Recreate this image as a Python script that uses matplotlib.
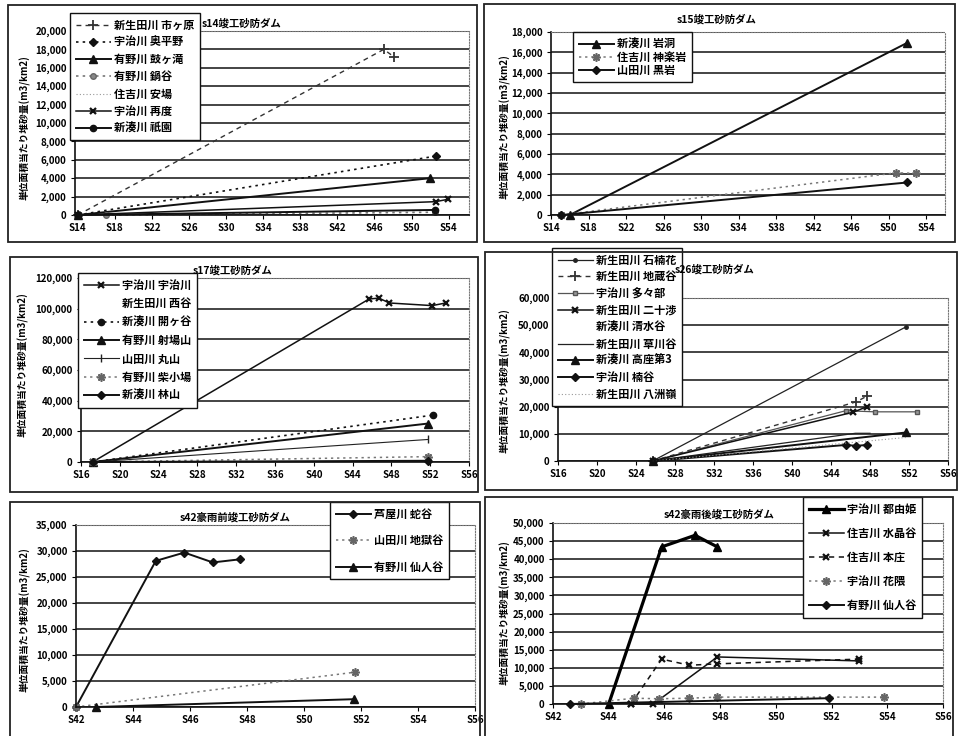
import matplotlib
matplotlib.use('Agg')
import matplotlib.pyplot as plt
from matplotlib.patches import Rectangle
from matplotlib.ticker import FixedLocator, FuncFormatter

plt.rcParams['font.family'] = ['Noto Sans CJK JP', 'DejaVu Sans']

W, H = 964, 736
YLABEL = '単位面積当たり堆砂量(m3/km2)'

# ---- データ (昭和年, 単位面積当たり堆砂量) ----
# s14竣工砂防ダム
s14_names = ['新生田川 市ヶ原', '宇治川 奥平野', '有野川 鼓ヶ滝', '有野川 鍋谷',
             '住吉川 安場', '宇治川 再度', '新湊川 祇園']
s14_x = [[14.0, 47.0, 48.1], [14.0, 52.6], [14.0, 52.0], [17.0, 52.5],
         [], [14.0, 52.6, 53.9], [14.0, 52.5]]
s14_y = [[0, 18000, 17200], [0, 6400], [0, 4000], [0, 300],
         [], [0, 1450, 1700], [0, 550]]

# s15竣工砂防ダム
s15_names = ['新湊川 岩洞', '住吉川 神楽岩', '山田川 黒岩']
s15_x = [[16.0, 51.9], [15.1, 50.8, 52.9], [15.1, 52.0]]
s15_y = [[0, 16900], [0, 4150, 4100], [0, 3200]]

# s17竣工砂防ダム
s17_names = ['宇治川 宇治川', '新生田川 西谷', '新湊川 開ヶ谷', '有野川 射場山',
             '山田川 丸山', '有野川 柴小場', '新湊川 林山']
s17_x = [[17.2, 45.7, 46.7, 47.8, 52.2, 53.6], [], [17.2, 52.3], [17.2, 51.8],
         [17.2, 51.8], [17.2, 51.8], [17.2, 51.8]]
s17_y = [[0, 106300, 106900, 103700, 102000, 103700], [], [0, 30600], [0, 25100],
         [0, 14700], [0, 3500], [0, 800]]

# s26竣工砂防ダム
s26_names = ['新生田川 石楠花', '新生田川 地蔵谷', '宇治川 多々部', '新生田川 二十渉',
             '新湊川 清水谷', '新生田川 草川谷', '新湊川 高座第3', '宇治川 楠谷',
             '新生田川 八洲嶺']
s26_x = [[25.7, 51.7], [25.7, 46.6, 47.7], [25.7, 45.5, 48.5, 52.8], [25.7, 46.3, 47.7],
         [], [25.7, 46.5, 48.0], [25.7, 51.7], [25.7, 45.5, 46.6, 47.7], [25.7, 51.8]]
s26_y = [[0, 49400], [0, 21800, 23900], [0, 18500, 18100, 18100], [0, 18000, 20000],
         [], [0, 10200, 10200], [0, 10500], [0, 5900, 5600, 5900], [0, 8700]]

# s42豪雨前竣工砂防ダム
pre_names = ['芦屋川 蛇谷', '山田川 地獄谷', '有野川 仙人谷']
pre_x = [[42.0, 44.8, 45.8, 46.8, 47.75], [42.0, 51.8], [42.7, 51.75]]
pre_y = [[0, 28100, 29700, 27800, 28400], [0, 6700], [0, 1500]]

# s42豪雨後竣工砂防ダム
post_names = ['宇治川 都由姫', '住吉川 水晶谷', '住吉川 本庄', '宇治川 花隈', '有野川 仙人谷']
post_x = [[44.0, 45.9, 47.1, 47.9], [44.8, 45.6, 47.9, 53.0], [44.8, 45.9, 46.9, 47.9, 53.0],
          [43.0, 44.9, 45.8, 46.9, 47.9, 53.9], [42.6, 51.9]]
post_y = [[0, 43400, 46600, 43400], [0, 0, 13000, 11900], [0, 12400, 10700, 11100, 12400],
          [0, 1600, 1450, 1600, 1900, 1900], [0, 1600]]

# ---- 線種 ----
DOT = (0, (1.5, 2.5))
DASH = (0, (3.5, 3))
STYLE = {
    'dash_plus': dict(color='#333', ls=DASH, lw=1.0, marker='+', ms=7, mew=1.3),
    'dot_diamond': dict(color='#111', ls=DOT, lw=1.2, marker='D', ms=4),
    'dot_circle': dict(color='#111', ls=DOT, lw=1.2, marker='o', ms=4.5),
    'solid_tri': dict(color='#111', ls='-', lw=1.4, marker='^', ms=5.5),
    'thick_tri': dict(color='#000', ls='-', lw=2.3, marker='^', ms=6),
    'solid_x': dict(color='#111', ls='-', lw=1.1, marker='x', ms=5, mew=1.6),
    'dash_x': dict(color='#111', ls=DASH, lw=1.1, marker='x', ms=5, mew=1.6),
    'solid_circle': dict(color='#111', ls='-', lw=1.4, marker='o', ms=4.5),
    'solid_diamond': dict(color='#111', ls='-', lw=1.4, marker='D', ms=4),
    'dot_gray': dict(color='#777', ls=DOT, lw=1.2, marker='o', ms=4, mfc='#888', mec='#666'),
    'dot_ast': dict(color='#777', ls=DOT, lw=1.1, marker=(8, 2, 0), ms=6, mew=1.2, mec='#666'),
    'dot_thin': dict(color='#999', ls=(0, (1, 2)), lw=0.8),
    'thin_bar': dict(color='#222', ls='-', lw=0.8, marker='|', ms=6, mew=1.0),
    'thin_solid': dict(color='#222', ls='-', lw=0.9),
    'thin_small': dict(color='#222', ls='-', lw=0.9, marker='o', ms=2.5),
    'thin_square': dict(color='#555', ls='-', lw=0.9, marker='s', ms=3, mfc='#999', mec='#555'),
    'none': dict(ls='none'),
}

s14_styles = ['dash_plus', 'dot_diamond', 'solid_tri', 'dot_gray', 'dot_thin', 'solid_x', 'solid_circle']
s15_styles = ['solid_tri', 'dot_ast', 'solid_diamond']
s17_styles = ['solid_x', 'none', 'dot_circle', 'solid_tri', 'thin_bar', 'dot_ast', 'solid_diamond']
s26_styles = ['thin_small', 'dash_plus', 'thin_square', 'solid_x', 'none', 'thin_solid',
              'solid_tri', 'solid_diamond', 'dot_thin']
pre_styles = ['solid_diamond', 'dot_ast', 'solid_tri']
post_styles = ['thick_tri', 'solid_x', 'dash_x', 'dot_ast', 'solid_diamond']

fig = plt.figure(figsize=(W / 100, H / 100), dpi=100)
fig.patch.set_facecolor('white')


def px_rect(l, t, r, b):
    return [l / W, 1 - b / H, (r - l) / W, (b - t) / H]


def draw_panel(frame, plot, xlim, xstep, ylim, ystep, title, title_xy, ylabel_xy,
               legend_xy, names, xs, ys, styles, spacing):
    fl, ft, fr, fb = frame
    fig.add_artist(Rectangle((fl / W, 1 - fb / H), (fr - fl) / W, (fb - ft) / H,
                             transform=fig.transFigure, fill=False, ec='#222', lw=1.3))
    ax = fig.add_axes(px_rect(*plot))
    for name, x, y, st in zip(names, xs, ys, styles):
        ax.plot(x, y, label=name, clip_on=False, **STYLE[st])
    ax.set_xlim(*xlim)
    ax.set_ylim(*ylim)
    first = xlim[0] if float(xlim[0]).is_integer() else int(xlim[0]) + 1
    ax.xaxis.set_major_locator(FixedLocator(list(range(int(first), int(xlim[1]) + 1, xstep))))
    ax.yaxis.set_major_locator(FixedLocator(list(range(0, ylim[1] + 1, ystep))))
    ax.xaxis.set_major_formatter(FuncFormatter(lambda v, p: 'S%d' % round(v)))
    ax.yaxis.set_major_formatter(FuncFormatter(lambda v, p: '{:,}'.format(int(v))))
    ax.tick_params(axis='both', labelsize=7, length=3, width=0.8, direction='out', pad=3)
    for lab in ax.get_xticklabels() + ax.get_yticklabels():
        lab.set_fontweight('bold')
    ax.yaxis.grid(True, color='#111', lw=1.1)
    ax.set_axisbelow(True)
    for side in ('left', 'bottom'):
        ax.spines[side].set_color('#111')
        ax.spines[side].set_linewidth(1.2)
    for side in ('top', 'right'):
        ax.spines[side].set_color('#777')
        ax.spines[side].set_linewidth(0.8)
        ax.spines[side].set_linestyle((0, (1, 1.5)))
    fig.text(title_xy[0] / W, 1 - title_xy[1] / H, title, ha='center', va='center',
             fontsize=7.5, fontweight='bold')
    fig.text(ylabel_xy[0] / W, 1 - ylabel_xy[1] / H, YLABEL, ha='center', va='center',
             rotation=90, fontsize=7, fontweight='bold')
    leg = ax.legend(loc='upper left', bbox_to_anchor=(legend_xy[0] / W, 1 - legend_xy[1] / H),
                    bbox_transform=fig.transFigure, fancybox=False, framealpha=1,
                    edgecolor='#111', borderaxespad=0, borderpad=0.5, handlelength=3.2,
                    handletextpad=0.3, labelspacing=spacing,
                    prop={'size': 8.0, 'weight': 'bold'})
    leg.get_frame().set_linewidth(1.0)
    leg.set_zorder(5)
    return ax


draw_panel((8, 5, 477, 242), (75, 31, 469, 215), (13.7, 56.2), 4, (0, 20000), 2000,
           's14竣工砂防ダム', (242, 23), (25, 128), (70, 13),
           s14_names, s14_x, s14_y, s14_styles, 0.38)
draw_panel((484, 4, 955, 242), (551, 32, 945, 215), (14, 56), 4, (0, 18000), 2000,
           's15竣工砂防ダム', (717, 19), (505, 127), (573, 32),
           s15_names, s15_x, s15_y, s15_styles, 0.0)
draw_panel((10, 257, 478, 492), (81, 278, 469, 462), (16, 56), 4, (0, 120000), 20000,
           's17竣工砂防ダム', (233, 270), (23, 365), (78, 273),
           s17_names, s17_x, s17_y, s17_styles, 0.49)
draw_panel((485, 252, 957, 490), (558, 298, 948, 461), (16, 56), 4, (0, 60000), 10000,
           's26竣工砂防ダム', (715, 269), (505, 381), (552, 248),
           s26_names, s26_x, s26_y, s26_styles, 0.34)
draw_panel((10, 502, 480, 740), (76, 525, 475, 707), (42, 56), 2, (0, 35000), 5000,
           's42豪雨前竣工砂防ダム', (235, 517), (25, 620), (330, 502),
           pre_names, pre_x, pre_y, pre_styles, 1.23)
draw_panel((485, 497, 953, 740), (553, 523, 943, 704), (42, 56), 2, (0, 50000), 5000,
           's42豪雨後竣工砂防ダム', (719, 514), (505, 613), (803, 497),
           post_names, post_x, post_y, post_styles, 1.0)

fig.savefig('out.png', dpi=100)
